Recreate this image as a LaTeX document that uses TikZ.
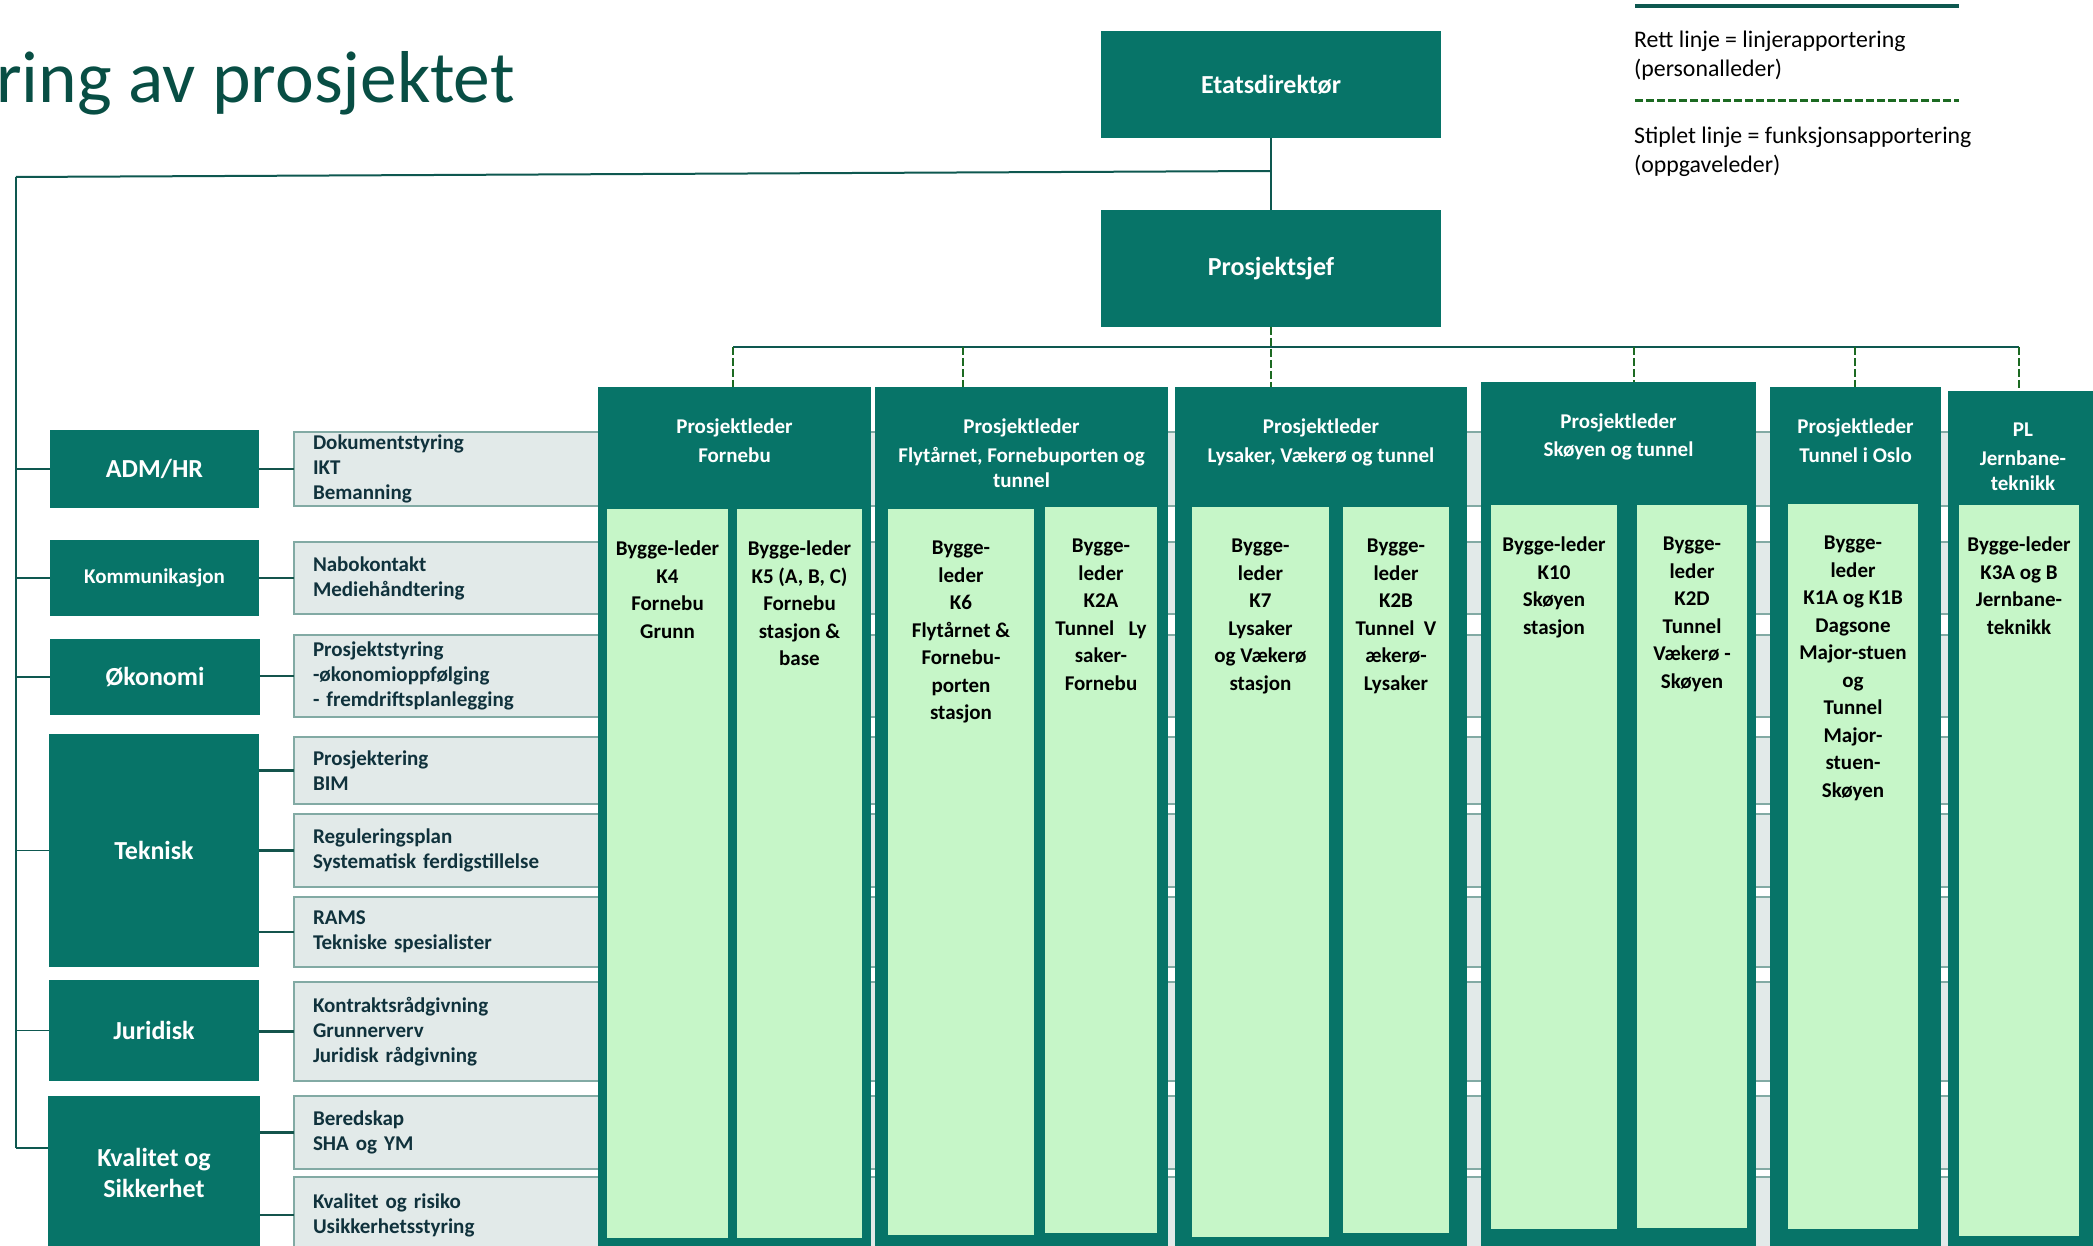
\documentclass[tikz,border=0pt]{standalone}
\usepackage{fontspec}
\setmainfont{Carlito}
\usepackage{tikz}
\usetikzlibrary{positioning}

\definecolor{etatgronn}{RGB}{7,116,104}
\definecolor{lysgronn}{RGB}{198,246,200}
\definecolor{graboks}{RGB}{226,234,233}
\definecolor{grakant}{RGB}{130,170,164}
\definecolor{gratekst}{RGB}{16,50,60}
\definecolor{linjefarge}{RGB}{14,88,80}
\definecolor{koblfarge}{RGB}{20,84,76}
\definecolor{stiplfarge}{RGB}{28,106,34}
\definecolor{tittelfarge}{RGB}{8,78,68}

\begin{document}
\begin{tikzpicture}[x=1pt, y=-1pt,
    boks/.style={fill=etatgronn, text=white, font=\bfseries\fontsize{26}{31}\selectfont, inner sep=0pt, outer sep=0pt, anchor=north west, align=center},
    stotte/.style={fill=graboks, draw=grakant, line width=2pt, text=gratekst, font=\bfseries\fontsize{21}{25}\selectfont, inner xsep=19pt, inner ysep=0pt, outer sep=0pt, text width=1768pt, align=left, anchor=north west},
    plkol/.style={fill=etatgronn, inner sep=0pt, outer sep=0pt, anchor=north west},
    plhode/.style={text=white, font=\bfseries\fontsize{21}{25}\selectfont, align=center, inner sep=0pt},
    bygg/.style={fill=lysgronn, inner sep=0pt, outer sep=0pt, anchor=north west},
    byggtekst/.style={font=\bfseries\fontsize{21}{27.5}\selectfont, align=center, inner sep=0pt},
    forklaring/.style={font=\fontsize{23.8}{29}\selectfont, align=left, inner sep=0pt, anchor=north west},
    linje/.style={draw=linjefarge, line width=2pt},
    tynn/.style={draw=linjefarge, line width=1.5pt},
    kobling/.style={draw=koblfarge, line width=2.7pt},
    stiplet/.style={draw=stiplfarge, line width=2.7pt, dash pattern=on 8pt off 3pt},
]
\useasboundingbox (0,0) rectangle (2093,1246);

\node[anchor=base west, text=tittelfarge, font=\fontsize{73.5}{80}\selectfont, inner sep=0pt] (tittel) at (-4,103) {ring av prosjektet};

% ledelse
\node[boks, minimum width=340pt, minimum height=107pt] (etat) at (1101,31) {Etatsdirektør};
\node[boks, minimum width=340pt, minimum height=117pt] (psjef) at (1101,210) {Prosjektsjef};

% forklaring
\coordinate (rettA) at (1635,6);
\coordinate (rettB) at (1959,6);
\coordinate (stiplA) at (1635,101);
\coordinate (stiplB) at (1959,101);
\draw[linje, line width=3.3pt] (rettA) -- (rettB);
\draw[stiplet, line width=3pt] (stiplA) -- (stiplB);
\node[forklaring] (rett) at (1634,31) {Rett linje = linjerapportering\\(personalleder)};
\node[forklaring] (stipl) at (1634,127) {Stiplet linje = funksjonsapportering\\(oppgaveleder)};

% staben, de gr{\aa}e feltene ligger bak prosjektkolonnene
\node[stotte, minimum height=74pt] (dok) at (294,432) {Dokumentstyring\\IKT\\Bemanning};
\node[stotte, minimum height=72pt] (nabo) at (294,542) {Nabokontakt\\Mediehåndtering};
\node[stotte, minimum height=82pt] (pstyr) at (294,635) {Prosjektstyring\\-økonomioppfølging\\- fremdriftsplanlegging};
\node[stotte, minimum height=67pt] (prosj) at (294,737) {Prosjektering\\BIM};
\node[stotte, minimum height=73pt] (reg) at (294,814) {Reguleringsplan\\Systematisk ferdigstillelse};
\node[stotte, minimum height=70pt] (rams) at (294,897) {RAMS\\Tekniske spesialister};
\node[stotte, minimum height=99pt] (kontr) at (294,982) {Kontraktsrådgivning\\Grunnerverv\\Juridisk rådgivning};
\node[stotte, minimum height=73pt] (bered) at (294,1096) {Beredskap\\SHA og YM};
\node[stotte, minimum height=76pt] (kvrisk) at (294,1177) {Kvalitet og risiko\\Usikkerhetsstyring};

\node[boks, minimum width=209pt, minimum height=78pt] (adm) at (50,430) {ADM/HR};
\node[boks, minimum width=209pt, minimum height=76pt, font=\bfseries\fontsize{21}{25}\selectfont] (komm) at (50,540) {Kommunikasjon};
\node[boks, minimum width=210pt, minimum height=76pt] (okon) at (50,639) {Økonomi};
\node[boks, minimum width=210pt, minimum height=233pt] (tekn) at (49,734) {Teknisk};
\node[boks, minimum width=210pt, minimum height=101pt] (jur) at (49,980) {Juridisk};
\node[boks, minimum width=212pt, minimum height=154pt] (kval) at (48,1096) {Kvalitet og\\Sikkerhet};

% prosjektlederkolonner
\node[plkol, minimum width=273pt, minimum height=870pt] (pl1) at (598,387) {};
\node[plkol, minimum width=293pt, minimum height=870pt] (pl2) at (875,387) {};
\node[plkol, minimum width=292pt, minimum height=870pt] (pl3) at (1175,387) {};
\node[plkol, minimum width=275pt, minimum height=875pt] (pl4) at (1481,382) {};
\node[plkol, minimum width=171pt, minimum height=870pt] (pl5) at (1770,387) {};
\node[plkol, minimum width=150pt, minimum height=866pt] (pl6) at (1948,391) {};

\node[plhode, below=32pt of pl1.north] (h1) {Prosjektleder\\[4pt]Fornebu};
\node[plhode, below=32pt of pl2.north] (h2) {Prosjektleder\\[4pt]Flytårnet, Fornebuporten og\\tunnel};
\node[plhode, below=32pt of pl3.north] (h3) {Prosjektleder\\[4pt]Lysaker, Vækerø og tunnel};
\node[plhode, below=32pt of pl4.north] (h4) {Prosjektleder\\[3pt]Skøyen og tunnel};
\node[plhode, below=32pt of pl5.north] (h5) {Prosjektleder\\[4pt]Tunnel i Oslo};
\node[plhode, below=32pt of pl6.north] (h6) {PL\\[4pt]Jernbane-\\teknikk};

% byggeledere
\node[bygg, minimum width=121pt, minimum height=729pt] (b1a) at (607,509) {};
\node[bygg, minimum width=125pt, minimum height=729pt] (b1b) at (737,509) {};
\node[bygg, minimum width=146pt, minimum height=726pt] (b2a) at (888,509) {};
\node[bygg, minimum width=112pt, minimum height=726pt] (b2b) at (1045,507) {};
\node[bygg, minimum width=137pt, minimum height=730pt] (b3a) at (1192,507) {};
\node[bygg, minimum width=106pt, minimum height=726pt] (b3b) at (1343,507) {};
\node[bygg, minimum width=126pt, minimum height=724pt] (b4a) at (1491,505) {};
\node[bygg, minimum width=110pt, minimum height=723pt] (b4b) at (1637,505) {};
\node[bygg, minimum width=130pt, minimum height=725pt] (b5a) at (1788,504) {};
\node[bygg, minimum width=120pt, minimum height=731pt] (b6a) at (1959,505) {};

\node[byggtekst, below=32pt of b1a.north] (t1a) {Bygge-leder\\K4\\Fornebu\\Grunn};
\node[byggtekst, below=32pt of b1b.north] (t1b) {Bygge-leder\\K5 (A, B, C)\\Fornebu\\stasjon \&\\base};
\node[byggtekst, below=32pt of b2a.north] (t2a) {Bygge-\\leder\\K6\\Flytårnet \&\\Fornebu-\\porten\\stasjon};
\node[byggtekst, below=32pt of b2b.north] (t2b) {Bygge-\\leder\\K2A\\Tunnel~~~Ly\\saker-\\Fornebu};
\node[byggtekst, below=32pt of b3a.north] (t3a) {Bygge-\\leder\\K7\\Lysaker\\og Vækerø\\stasjon};
\node[byggtekst, below=32pt of b3b.north] (t3b) {Bygge-\\leder\\K2B\\Tunnel~~V\\ækerø-\\Lysaker};
\node[byggtekst, below=32pt of b4a.north] (t4a) {Bygge-leder\\K10\\Skøyen\\stasjon};
\node[byggtekst, below=32pt of b4b.north] (t4b) {Bygge-\\leder\\K2D\\Tunnel\\Vækerø -\\Skøyen};
\node[byggtekst, below=32pt of b5a.north] (t5a) {Bygge-\\leder\\K1A og K1B\\Dagsone\\Major-stuen\\og\\Tunnel\\Major-\\stuen-\\Skøyen};
\node[byggtekst, below=32pt of b6a.north] (t6a) {Bygge-leder\\K3A og B\\Jernbane-\\teknikk};

% linjer
\coordinate (grenpkt) at (1271,171);
\coordinate (spinetopp) at (16,177);
\coordinate (spinebunn) at (16,1148);
\draw[linje] (etat) -- (psjef);
\draw[linje] (grenpkt) -- (spinetopp);
\draw[tynn] (spinetopp) -- (spinebunn);
\foreach \s in {adm, komm, okon, tekn, jur}
    \draw[tynn] (spinetopp |- \s.west) -- (\s.west);
\draw[tynn] (spinebunn) -- (spinebunn -| kval.west);
\foreach \a/\g in {adm/dok, komm/nabo, okon/pstyr, tekn/prosj, tekn/reg, tekn/rams, jur/kontr, kval/bered, kval/kvrisk}
    \draw[kobling] (\a.east |- \g.west) -- (\g.west);

\coordinate (stang1) at (733,347);
\coordinate (stang2) at (963,347);
\coordinate (stang4) at (1634,347);
\coordinate (stang5) at (1855,347);
\coordinate (stang6) at (2019,347);
\draw[linje] (stang1) -- (stang6);
\foreach \k/\p in {1/pl1, 2/pl2, 4/pl4, 5/pl5, 6/pl6}
    \draw[stiplet] (stang\k) -- (stang\k |- \p.north);
\draw[stiplet] (psjef) -- (psjef |- pl3.north);
\end{tikzpicture}
\end{document}
